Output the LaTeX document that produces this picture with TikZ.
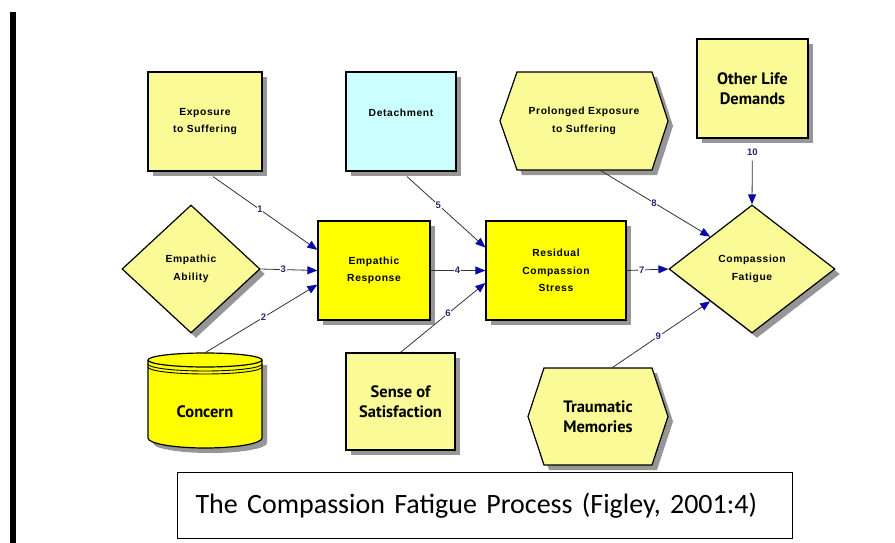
\documentclass[tikz,border=0pt]{standalone}
\usepackage{fontspec}
\setmainfont{Liberation Sans}
\newfontfamily\lblfont[LetterSpace=6]{Liberation Sans}
\newfontfamily\bigfont{PT Sans}
\newfontfamily\capfont{Carlito}
\usetikzlibrary{shapes.geometric,arrows.meta,shadows,calc}
\definecolor{ly}{RGB}{250,250,150}
\definecolor{by}{RGB}{255,255,0}
\definecolor{lc}{RGB}{204,255,255}
\definecolor{sh}{RGB}{150,150,150}
\definecolor{tipblue}{RGB}{10,10,170}
\definecolor{numc}{RGB}{40,40,110}
\begin{document}
\begin{tikzpicture}[x=1pt,y=-1pt,
 shp/.style={draw=black, line width=1.2pt, drop shadow={shadow xshift=5pt,shadow yshift=-5pt,fill=sh,opacity=1}},
 box/.style={shp, rectangle, inner sep=0pt, align=center},
 dia/.style={shp, diamond, inner sep=0pt, align=center},
 small/.style={font=\lblfont\bfseries\fontsize{10.3}{17.5}\selectfont},
 big/.style={font=\bigfont\bfseries\fontsize{16.5}{20.5}\selectfont},
 conn/.style={draw=black!80, line width=0.8pt, -{Triangle[length=10pt,width=8pt,color=tipblue]}},
 num/.style={font=\bfseries\fontsize{9.5}{11}\selectfont, text=numc, fill=white, inner sep=0.8pt},
 hexa/.style={fill=ly, draw=black, line width=1.2pt}
]
\useasboundingbox (0,0) rectangle (895,543);
% left bar
\fill[black] (10,12) rectangle (16,543);

% boxes
\node[box, small, fill=ly, minimum width=114, minimum height=99] (es) at (205,121.5) {Exposure\\to Suffering};
\node[box, small, fill=lc, minimum width=110, minimum height=99] (dt) at (401,121.5) {Detachment\\ \mbox{}};
\node[box, big, fill=ly, minimum width=111, minimum height=99] (ol) at (752.5,88.5) {Other Life\\Demands};
\node[box, small, fill=by, minimum width=112, minimum height=99] (er) at (374,270.5) {Empathic\\Response};
\node[box, small, fill=by, minimum width=140, minimum height=99] (rs) at (556,270.5) {Residual\\Compassion\\Stress};
\node[box, big, fill=ly, minimum width=109, minimum height=97] (ss) at (400.5,401.5) {Sense of\\Satisfaction};

% diamonds
\node[dia, small, fill=ly, minimum width=138, minimum height=128] (ea) at (191,269) {Empathic\\Ability};
\node[dia, small, fill=ly, minimum width=166, minimum height=128] (cf) at (752,269) {Compassion\\Fatigue};

% hexagons
\fill[sh] ([shift={(5,5)}]517,72) -- ([shift={(5,5)}]652,72) -- ([shift={(5,5)}]668,121) -- ([shift={(5,5)}]652,170) -- ([shift={(5,5)}]517,170) -- ([shift={(5,5)}]500,121) -- cycle;
\draw[hexa] (517,72) -- (652,72) -- (668,121) -- (652,170) -- (517,170) -- (500,121) -- cycle;
\node[small, align=center, inner sep=0, minimum width=168, minimum height=98] (pe) at (584,121) {Prolonged Exposure\\to Suffering};

\fill[sh] ([shift={(5,5)}]544,368) -- ([shift={(5,5)}]652,368) -- ([shift={(5,5)}]668,416.5) -- ([shift={(5,5)}]652,465) -- ([shift={(5,5)}]544,465) -- ([shift={(5,5)}]528,416.5) -- cycle;
\draw[hexa] (544,368) -- (652,368) -- (668,416.5) -- (652,465) -- (544,465) -- (528,416.5) -- cycle;
\node[big, align=center, inner sep=0, minimum width=140, minimum height=97] (tm) at (598,416.5) {Traumatic\\Memories};

% cylinder (Concern)
\fill[sh] (153,365) -- (153,443) .. controls (153,448.5) and (178.5,453) .. (210,453) .. controls (241.5,453) and (267,448.5) .. (267,443) -- (267,365) -- cycle;
\fill[by] (148,360) -- (148,438) .. controls (148,443.5) and (173.5,448) .. (205,448) .. controls (236.5,448) and (262,443.5) .. (262,438) -- (262,360) -- cycle;
\draw[line width=1.2pt] (148,360) -- (148,438) .. controls (148,443.5) and (173.5,448) .. (205,448) .. controls (236.5,448) and (262,443.5) .. (262,438) -- (262,360);
\draw[line width=1.2pt, fill=by] (205,360) ellipse [x radius=57, y radius=7];
\draw[line width=0.9pt] (148,364) .. controls (148,367.9) and (173.5,371) .. (205,371) .. controls (236.5,371) and (262,367.9) .. (262,364);
\draw[line width=0.9pt] (148,367) .. controls (148,370.9) and (173.5,374) .. (205,374) .. controls (236.5,374) and (262,370.9) .. (262,367);
\node[big, inner sep=0, minimum width=114, minimum height=95] (cc) at (205,400.5) {\raisebox{-17pt}[0pt][0pt]{Concern}};

% connectors
\draw[conn] ([xshift=8pt,yshift=-5pt]es.south) -- node[num, pos=0.45] {1} (er.160);
\draw[conn] (cc.north) -- node[num, pos=0.52] {2} (er.194);
\draw[conn] (ea.east) -- node[num, pos=0.4] {3} (er.west);
\draw[conn] (er.east) -- node[num, pos=0.49] {4} (rs.west);
\draw[conn] ([xshift=6pt,yshift=-5pt]dt.south) -- node[num, pos=0.4] {5} (rs.162);
\draw[conn] (ss.north) -- node[num, pos=0.56] {6} (rs.190);
\draw[conn] (rs.east) -- node[num, pos=0.36] {7} (cf.west);
\draw[conn] ([xshift=16pt]pe.south) -- node[num, pos=0.49] {8} (cf.north west);
\draw[conn] ([xshift=14pt]tm.north) -- node[num, pos=0.47] {9} (cf.south west);
\draw[conn, shorten <=22pt] (ol.south) -- node[num, pos=0.2, fill=none] {10} (cf.north);

% caption
\node[draw, line width=1pt, anchor=north west, inner xsep=18pt, inner ysep=0pt, text width=579, minimum height=66, align=left, font=\capfont\fontsize{28}{32}\selectfont] (cap) at (177,472) {The Compassion Fatigue Process (Figley, 2001:4)};
\end{tikzpicture}
\end{document}
